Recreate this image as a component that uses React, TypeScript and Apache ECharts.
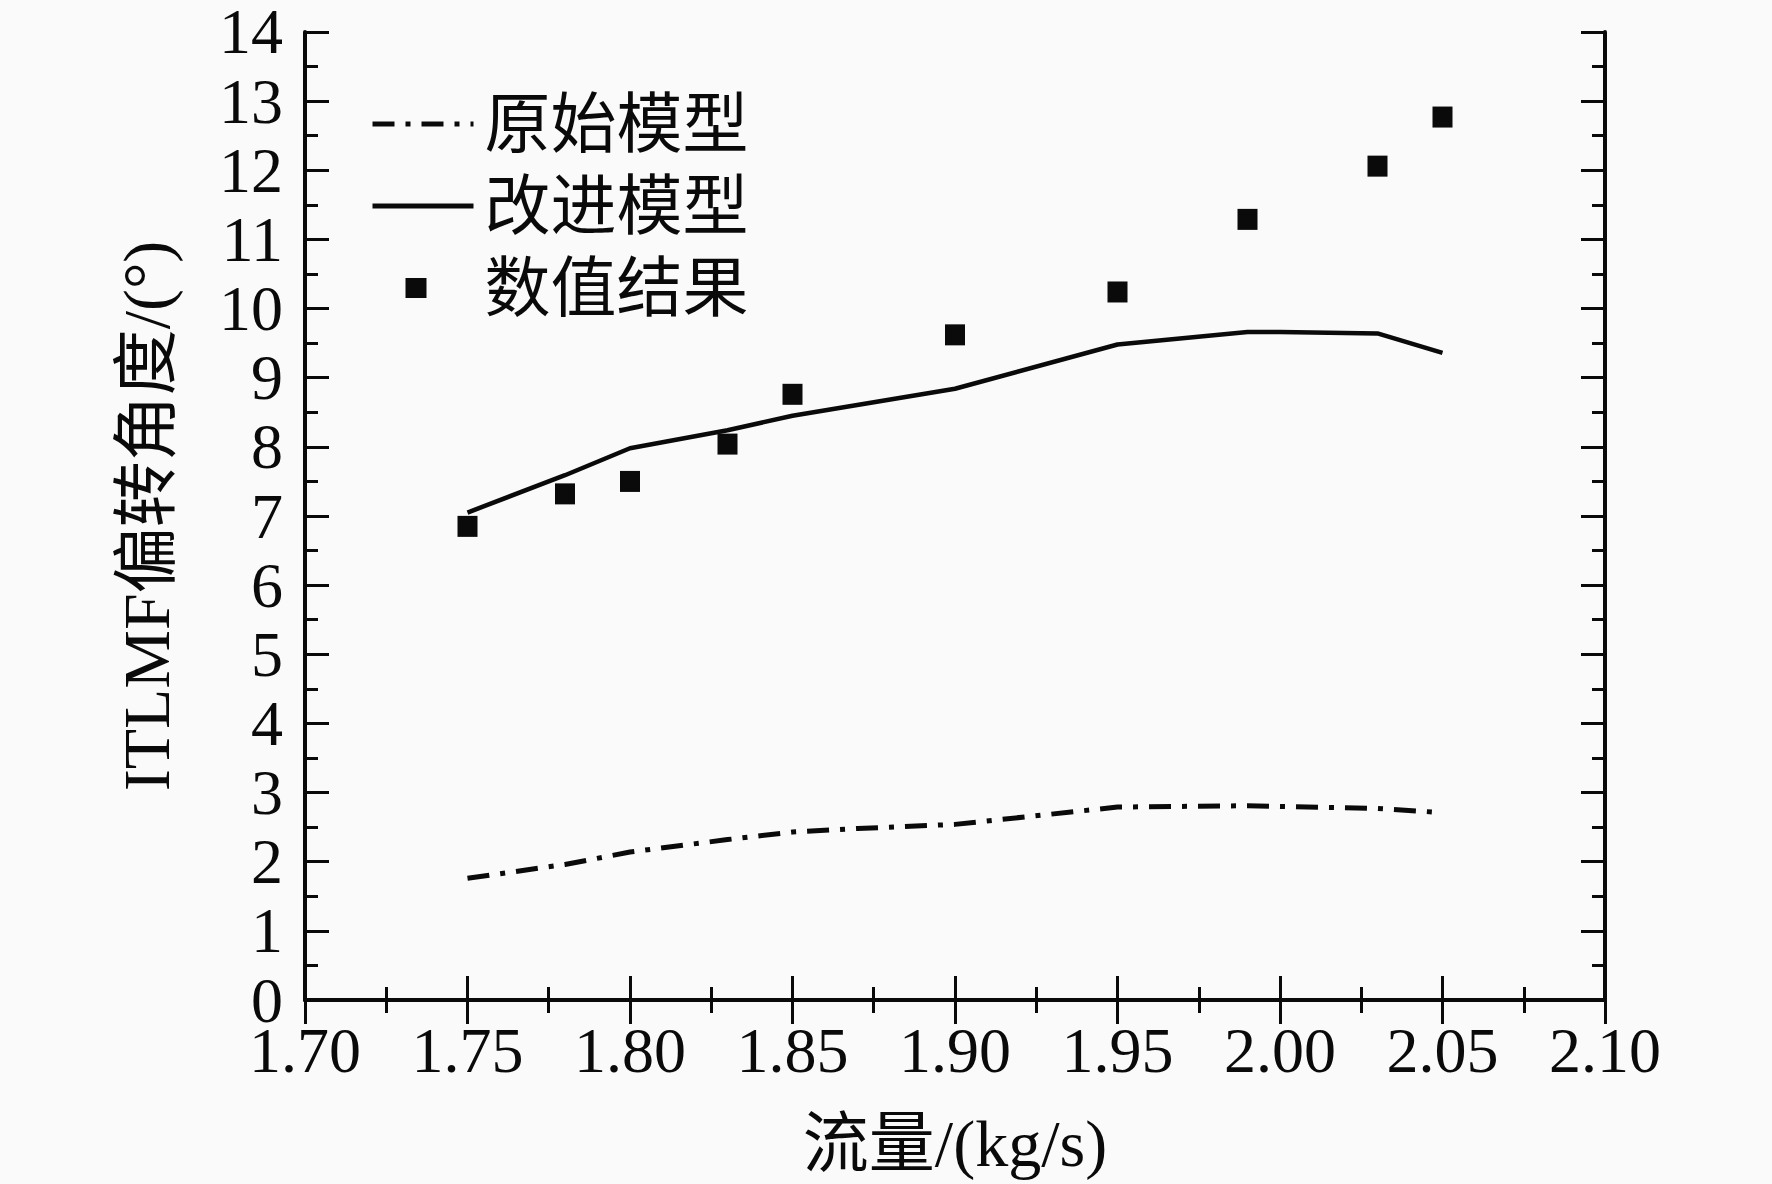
import React, { useEffect, useRef } from "react";
import * as echarts from "echarts";

const flowNumeric = [1.75, 1.78, 1.8, 1.83, 1.85, 1.9, 1.95, 1.99, 2.03, 2.05];
const angleNumeric = [6.85, 7.32, 7.5, 8.04, 8.76, 9.62, 10.24, 11.29, 12.06, 12.77];

const flowImproved = [1.75, 1.78, 1.8, 1.83, 1.85, 1.9, 1.95, 1.99, 2.0, 2.03, 2.05];
const angleImproved = [7.05, 7.59, 7.98, 8.24, 8.45, 8.84, 9.48, 9.66, 9.66, 9.64, 9.36];

const flowOriginal = [1.75, 1.78, 1.8, 1.83, 1.85, 1.87, 1.9, 1.95, 1.99, 2.03, 2.05];
const angleOriginal = [1.76, 1.96, 2.14, 2.32, 2.43, 2.48, 2.54, 2.79, 2.81, 2.77, 2.71];

const seriesNames = ["原始模型", "改进模型", "数值结果"];
const xAxisName = "流量/(kg/s)";
const yAxisName = "ITLMF偏转角度/(°)";

const FONT = "'Liberation Serif', 'Times New Roman', 'Noto Sans CJK SC', serif";
const INK = "#0a0a0a";
const DASH_DOT = [22, 11, 5, 11];

// legend square icon inside a 101 x 20 box (tiny invisible anchors at both ends)
const SQUARE_ICON =
  "path://M0,10L0.01,10L0,10.01Z M33,0L54,0L54,20L33,20Z M101,10L100.99,10L101,10.01Z";

const zip = (xs: number[], ys: number[]) => xs.map((x, i) => [x, ys[i]]);

export default function App() {
  const ref = useRef<HTMLDivElement>(null);
  useEffect(() => {
    if (!ref.current) return;
    const chart = echarts.init(ref.current, undefined, { renderer: "svg" });
    const axisLine = { show: true, lineStyle: { color: INK, width: 4 } };
    const tickCommon = { show: true, inside: true, length: 24, lineStyle: { color: INK, width: 3 } };
    const minorCommon = { show: true, splitNumber: 2, length: 13, lineStyle: { color: INK, width: 3 } };
    chart.setOption({
      animation: false,
      backgroundColor: "#fafafa",
      grid: { left: 305, right: 167, top: 30, bottom: 184, containLabel: false },
      legend: {
        left: 365,
        top: 86,
        orient: "vertical",
        itemWidth: 101,
        itemHeight: 20,
        itemGap: 16,
        symbolKeepAspect: false,
        data: [
          {
            name: seriesNames[0],
            itemStyle: { opacity: 0 },
            lineStyle: { width: 5, type: DASH_DOT, color: INK },
          },
          {
            name: seriesNames[1],
            itemStyle: { opacity: 0 },
            lineStyle: { width: 5, type: "solid", color: INK },
          },
          { name: seriesNames[2], icon: SQUARE_ICON, itemStyle: { color: INK, opacity: 1 } },
        ],
        textStyle: { fontSize: 66, fontFamily: FONT, color: INK, padding: [0, 0, 0, 6], lineHeight: 66 },
      },
      xAxis: [
        {
          type: "value",
          min: 1.7,
          max: 2.1,
          interval: 0.05,
          name: xAxisName,
          nameLocation: "middle",
          nameGap: 110,
          nameTextStyle: { fontSize: 66, fontFamily: FONT, color: INK },
          axisLine,
          axisTick: tickCommon,
          minorTick: minorCommon,
          splitLine: { show: false },
          axisLabel: {
            margin: 18,
            fontSize: 64,
            fontFamily: FONT,
            color: INK,
            formatter: (v: number) => v.toFixed(2),
          },
        },
        {
          type: "value",
          position: "top",
          min: 1.7,
          max: 2.1,
          interval: 0.05,
          axisLine,
          axisTick: tickCommon,
          minorTick: minorCommon,
          splitLine: { show: false },
          axisLabel: { show: false },
        },
      ],
      yAxis: [
        {
          type: "value",
          min: 0,
          max: 14,
          interval: 1,
          name: yAxisName,
          nameLocation: "middle",
          nameGap: 126,
          nameTextStyle: { fontSize: 66, fontFamily: FONT, color: INK },
          axisLine,
          axisTick: tickCommon,
          minorTick: minorCommon,
          splitLine: { show: false },
          axisLabel: { margin: 22, fontSize: 64, fontFamily: FONT, color: INK },
        },
        {
          type: "value",
          position: "right",
          min: 0,
          max: 14,
          interval: 1,
          axisLine,
          axisTick: tickCommon,
          minorTick: minorCommon,
          splitLine: { show: false },
          axisLabel: { show: false },
        },
      ],
      series: [
        {
          name: seriesNames[0],
          type: "line",
          data: zip(flowOriginal, angleOriginal),
          symbol: "none",
          lineStyle: { color: INK, width: 5, type: DASH_DOT },
          itemStyle: { color: INK },
        },
        {
          name: seriesNames[1],
          type: "line",
          data: zip(flowImproved, angleImproved),
          symbol: "none",
          lineStyle: { color: INK, width: 4.5, type: "solid" },
          itemStyle: { color: INK },
        },
        {
          name: seriesNames[2],
          type: "scatter",
          data: zip(flowNumeric, angleNumeric),
          symbol: "rect",
          symbolSize: [20, 21],
          itemStyle: { color: INK, opacity: 1 },
        },
      ],
    });
    return () => chart.dispose();
  }, []);
  return (
    <div
      ref={ref}
      style={{ position: "absolute", left: 0, top: 0, width: 1772, height: 1184 }}
    />
  );
}
